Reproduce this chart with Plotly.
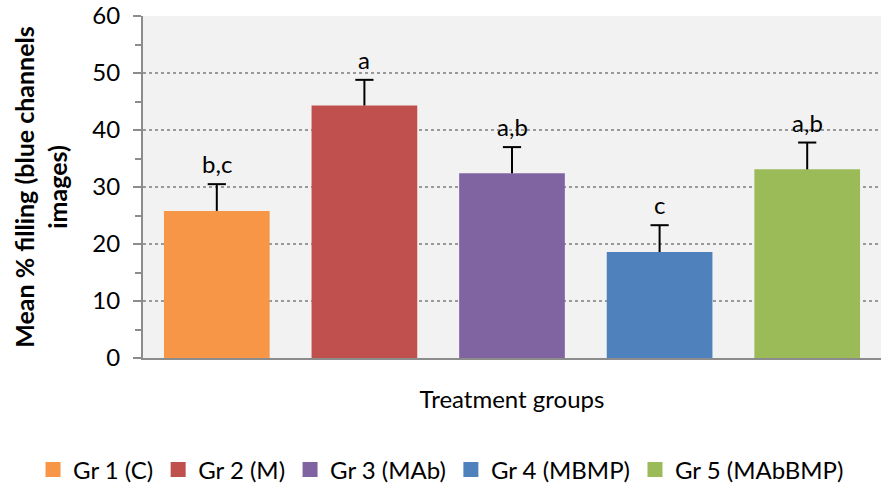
import plotly.graph_objects as go

groups = ["Gr 1 (C)", "Gr 2 (M)", "Gr 3 (MAb)", "Gr 4 (MBMP)", "Gr 5 (MAbBMP)"]
means = [25.8, 44.3, 32.4, 18.6, 33.1]
errors = [4.7, 4.5, 4.6, 4.7, 4.7]
letters = ["b,c", "a", "a,b", "c", "a,b"]
colors = ["#F79646", "#C0504D", "#8064A2", "#4F81BD", "#9BBB59"]

FONT = "Lato"
FS = 24

fig = go.Figure()
for g, m, e, c in zip(groups, means, errors, colors):
    fig.add_trace(go.Bar(
        x=[g], y=[m], name=g, showlegend=False, legendgroup=g,
        marker=dict(color=c, line=dict(width=0)),
        error_y=dict(type="data", array=[e], arrayminus=[0], symmetric=False,
                     color="black", thickness=2, width=0),
    ))
    # legend entry with larger square swatch
    fig.add_trace(go.Scatter(
        x=[None], y=[None], name=g, legendgroup=g, mode="markers",
        marker=dict(symbol="square", size=15, color=c),
    ))

tops = [m + e for m, e in zip(means, errors)]
fig.add_trace(go.Scatter(
    x=groups, y=tops, mode="markers", showlegend=False, hoverinfo="skip",
    marker=dict(symbol="line-ew-open", size=13, color="black", line=dict(width=2, color="black")),
))

for g, t, lab in zip(groups, tops, letters):
    fig.add_annotation(x=g, y=t, text=lab, showarrow=False, yanchor="bottom",
                       yshift=4, font=dict(family=FONT, size=FS, color="black"))

fig.update_layout(
    width=881, height=483,
    margin=dict(l=143, r=0, t=16, b=125, autoexpand=False),
    paper_bgcolor="white", plot_bgcolor="#F2F2F2",
    barmode="overlay", bargap=0.284,
    font=dict(family=FONT, size=FS, color="black"),
    legend=dict(orientation="h", x=-0.149, xanchor="left", y=-0.3275, yanchor="middle",
                font=dict(family=FONT, size=FS), itemwidth=30, traceorder="normal"),
    xaxis=dict(showticklabels=False, showline=True, linecolor="#8C8C8C", linewidth=2,
               ticks="", automargin=False,
               title=dict(text="Treatment groups", font=dict(size=FS), standoff=32)),
    yaxis=dict(range=[0, 60], dtick=10, showline=True, linecolor="#8C8C8C", linewidth=2,
               ticks="outside", ticklen=8, tickcolor="#8C8C8C", tickwidth=1.5,
               ticklabelstandoff=8,
               showgrid=True, gridcolor="#999999", griddash="dot", gridwidth=1.5,
               tickfont=dict(size=FS), zeroline=False, automargin=False,
               minor=dict(dtick=5, ticks="outside", ticklen=6, tickcolor="#8C8C8C", showgrid=False),
               title=dict(text="<b>Mean % filling (blue channels<br>images)</b>",
                          font=dict(size=25), standoff=18)),
)

fig.write_html("out.html", config={"displayModeBar": False},
               post_script="document.body.style.margin='0';")
